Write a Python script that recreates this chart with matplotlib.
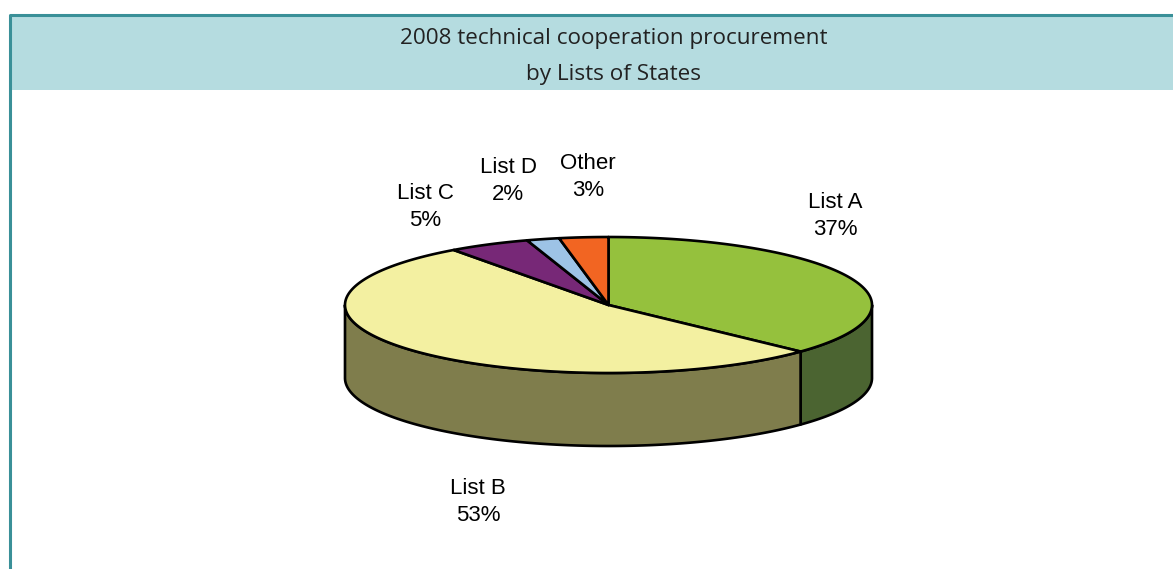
import numpy as np
import matplotlib
matplotlib.use("Agg")
import matplotlib.pyplot as plt
from matplotlib.patches import Polygon, Rectangle

# data
labels = ["List A", "List B", "List C", "List D", "Other"]
shares = [37, 53, 5, 2, 3]
top_colors = ["#95c13d", "#f3f0a1", "#772877", "#9dc3e6", "#f26522"]
side_colors = ["#4b6431", "#7f7d4c", "#4a1a4a", "#627a90", "#973f15"]
label_pos = [(835, 216), (478, 502), (425, 207), (508, 181), (588, 177)]

W, H = 1173, 569
fig = plt.figure(figsize=(W / 100, H / 100), dpi=100)
ax = fig.add_axes([0, 0, 1, 1])
ax.set_xlim(0, W)
ax.set_ylim(H, 0)
ax.axis("off")

# frame and header band
ax.add_patch(Rectangle((10, 15), W, 75, facecolor="#b5dce0", edgecolor="none", zorder=1))
ax.plot([10, 10, W + 5], [H + 5, 15, 15], color="#3a9098", lw=2.2, solid_capstyle="butt", zorder=2)
ax.text(614, 38, "2008 technical cooperation procurement", ha="center", va="center",
        fontsize=16.2, family="Open Sans", color="#222222", zorder=3)
ax.text(614, 74, "by Lists of States", ha="center", va="center",
        fontsize=16.2, family="Open Sans", color="#222222", zorder=3)

# 3d pie geometry (pixels)
cx, cy, rx, ry, depth = 608.5, 305, 263.5, 68, 73


def arc(t1, t2, dy=0, n=200):
    t = np.radians(np.linspace(t1, t2, n))
    return np.column_stack([cx + rx * np.cos(t), cy + dy - ry * np.sin(t)])


fr = np.array(shares, dtype=float) / sum(shares)
bounds = 90 - 360 * np.concatenate([[0], np.cumsum(fr)])

# side walls (front half only: angles between -180 and 0)
for i in range(len(shares)):
    a1, a2 = bounds[i], bounds[i + 1]
    lo, hi = max(a2, -180), min(a1, 0)
    if hi <= lo:
        continue
    top = arc(hi, lo)
    bot = arc(lo, hi, dy=depth)
    ax.add_patch(Polygon(np.vstack([top, bot]), closed=True, facecolor=side_colors[i],
                         edgecolor="black", lw=1.9, joinstyle="round", zorder=4))

# top faces
for i in range(len(shares)):
    pts = np.vstack([[cx, cy], arc(bounds[i], bounds[i + 1])])
    ax.add_patch(Polygon(pts, closed=True, facecolor=top_colors[i],
                         edgecolor="black", lw=1.9, joinstyle="round", zorder=5))

for lab, v, (x, y) in zip(labels, shares, label_pos):
    ax.text(x, y, f"{lab}\n{v}%", ha="center", va="center", fontsize=16,
            family="Liberation Sans", linespacing=1.4, color="black", zorder=6)

fig.savefig("out.png", dpi=100)
